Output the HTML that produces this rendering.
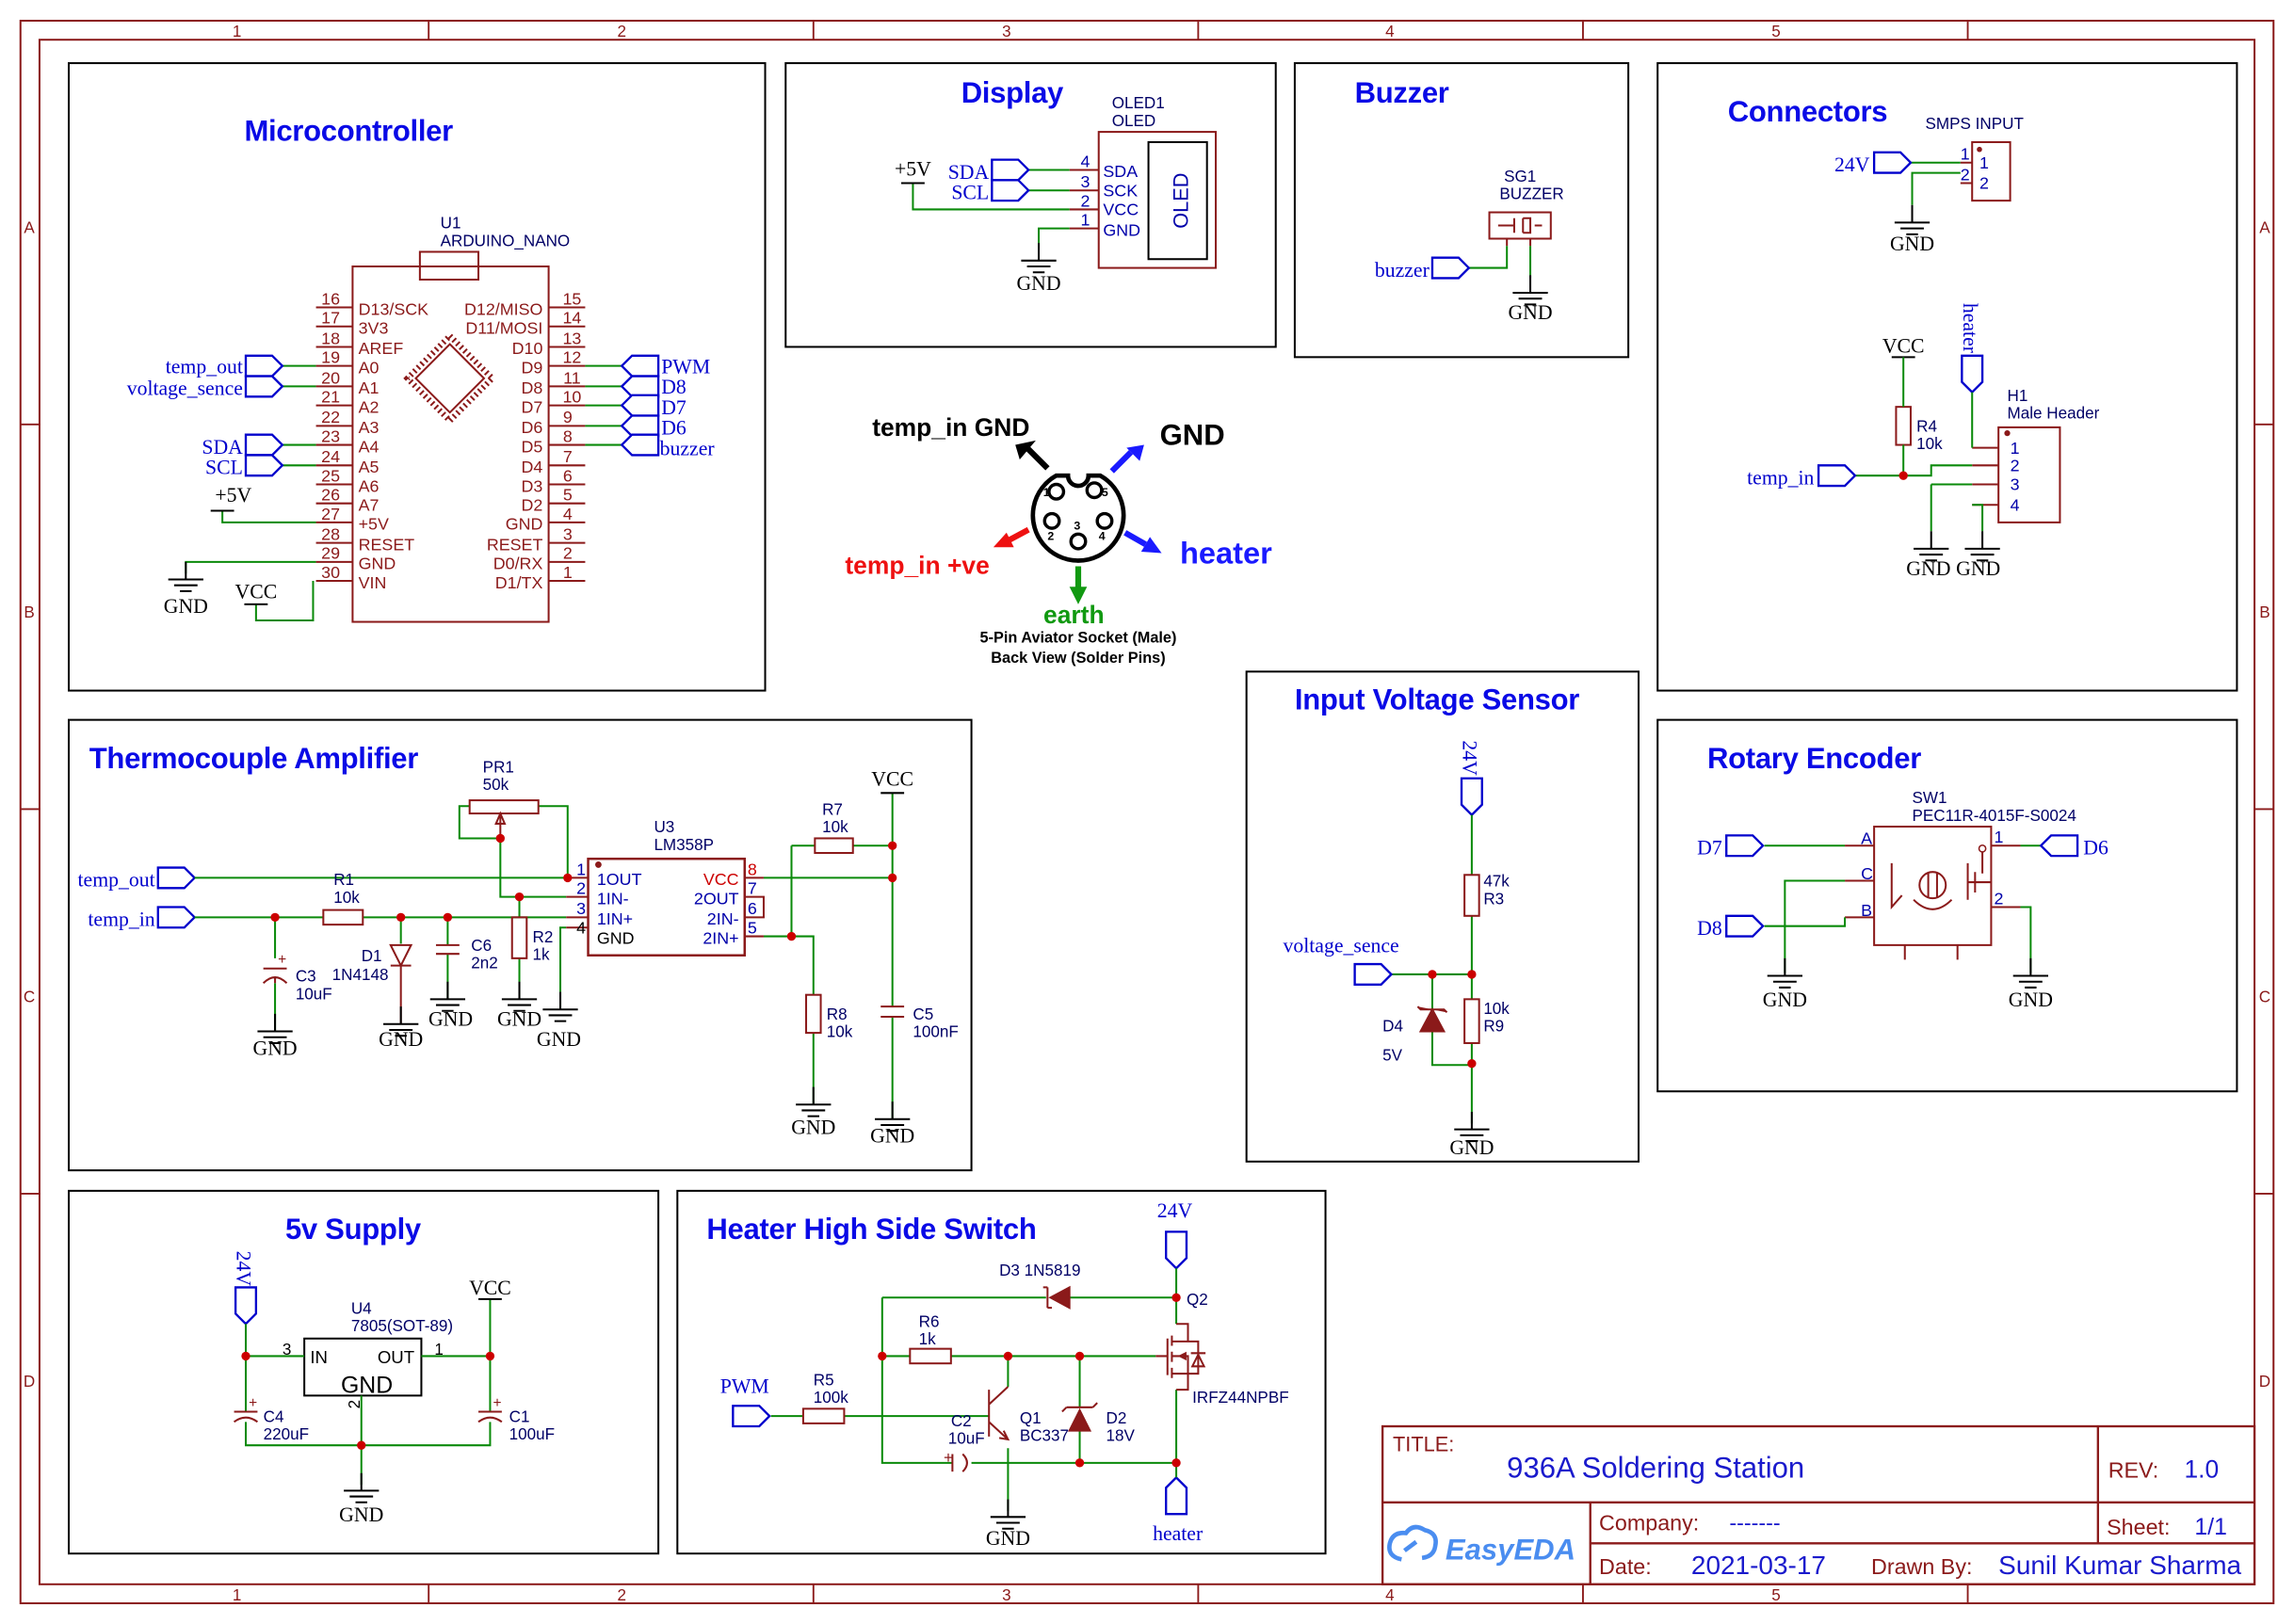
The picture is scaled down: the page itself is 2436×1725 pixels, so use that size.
<!DOCTYPE html>
<html><head><meta charset="utf-8"><style>
html,body{margin:0;padding:0;background:#fff;}
svg{display:block;}
.w{stroke:#0a8a0a;stroke-width:1.3;fill:none}
.c{stroke:#8b1a1a;stroke-width:1.3;fill:none}
.b{stroke:#000;stroke-width:1.3;fill:none}
.f{stroke:#0000cc;stroke-width:1.5;fill:#fff}
.nl{font-family:"Liberation Serif",serif;font-size:14px;fill:#0000cc}
.sl{font-family:"Liberation Serif",serif;font-size:14px;fill:#000}
.pl{font-family:"Liberation Sans",sans-serif;font-size:11.5px;fill:#8b1a1a}
.pn{font-family:"Liberation Sans",sans-serif;font-size:11.5px;fill:#8b1a1a}
.lb{font-family:"Liberation Sans",sans-serif;font-size:11px;fill:#000066}
.bp{font-family:"Liberation Sans",sans-serif;font-size:11.5px;fill:#0000aa}
.t{font-family:"Liberation Sans",sans-serif;font-size:20px;font-weight:bold;fill:#0a0ae6;letter-spacing:-0.2px}
.fr{font-family:"Liberation Sans",sans-serif;font-size:11px;fill:#8b1a1a}
.d{fill:#cc0000}
</style></head><body>
<svg width="2436" height="1725" viewBox="0 0 1568 1110" xmlns="http://www.w3.org/2000/svg">
<defs>
<g id="gnd"><path d="M0,-12V0M-12,0H12M-8,4H8M-4,8H4" stroke="#000" stroke-width="1.3" fill="none"/></g>
<path id="fr" d="M0,-7H18L25,0L18,7H0Z"/>
<path id="fl" d="M25,-7H7L0,0L7,7H25Z"/>
<path id="fd" d="M-7,0V18L0,25L7,18V0Z"/>
<path id="fu" d="M-7,25V7L0,0L7,7V25Z"/>
</defs>
<rect width="1568" height="1110" fill="#fff"/>
<rect x="14" y="14" width="1540" height="1082" fill="none" stroke="#8b1a1a" stroke-width="1.3"/>
<rect x="27" y="27" width="1514" height="1056" fill="none" stroke="#8b1a1a" stroke-width="1.3"/>
<g stroke="#8b1a1a" stroke-width="1.2">
<path d="M293,14V27M556,14V27M819,14V27M1082,14V27M1345,14V27M293,1083V1096M556,1083V1096M819,1083V1096M1082,1083V1096M1345,1083V1096"/>
<path d="M14,290H27M14,553H27M14,816H27M1541,290H1554M1541,553H1554M1541,816H1554"/>
</g>
<g class="fr" text-anchor="middle">
<text x="162" y="25">1</text><text x="425" y="25">2</text><text x="688" y="25">3</text><text x="950" y="25">4</text><text x="1214" y="25">5</text>
<text x="162" y="1094">1</text><text x="425" y="1094">2</text><text x="688" y="1094">3</text><text x="950" y="1094">4</text><text x="1214" y="1094">5</text>
<text x="20" y="159">A</text><text x="20" y="422">B</text><text x="20" y="685">C</text><text x="20" y="948">D</text>
<text x="1548" y="159">A</text><text x="1548" y="422">B</text><text x="1548" y="685">C</text><text x="1548" y="948">D</text>
</g>
<g class="b" stroke-width="1.5">
<rect x="47" y="43" width="476" height="429"/>
<rect x="537" y="43" width="335" height="194"/>
<rect x="885" y="43" width="228" height="201"/>
<rect x="1133" y="43" width="396" height="429"/>
<rect x="47" y="492" width="617" height="308"/>
<rect x="852" y="459" width="268" height="335"/>
<rect x="1133" y="492" width="396" height="254"/>
<rect x="47" y="814" width="403" height="248"/>
<rect x="463" y="814" width="443" height="248"/>
</g>
<g class="t">
<text x="167" y="96">Microcontroller</text>
<text x="657" y="70">Display</text>
<text x="926" y="70">Buzzer</text>
<text x="1181" y="83">Connectors</text>
<text x="61" y="525">Thermocouple Amplifier</text>
<text x="885" y="485">Input Voltage Sensor</text>
<text x="1167" y="525">Rotary Encoder</text>
<text x="195" y="847">5v Supply</text>
<text x="483" y="847">Heater High Side Switch</text>
</g>

<text class="lb" x="301" y="156">U1</text><text class="lb" x="301" y="168">ARDUINO_NANO</text>
<rect class="c" x="241" y="182" width="134" height="243"/>
<rect class="c" x="287" y="172" width="40" height="19"/>
<g class="c">
<path d="M216,210H241M216,223H241M216,237H241M216,250H241M216,264H241M216,277H241M216,291H241M216,304H241M216,318H241M216,331H241M216,344H241M216,357H241M216,371H241M216,384H241M216,397H241"/>
<path d="M375,210H400M375,223H400M375,237H400M375,250H400M375,264H400M375,277H400M375,291H400M375,304H400M375,318H400M375,331H400M375,344H400M375,357H400M375,371H400M375,384H400M375,397H400"/>
<rect x="291" y="242" width="33" height="33" transform="rotate(45 307.5 258.5)"/>
<rect x="287" y="238" width="41" height="41" transform="rotate(45 307.5 258.5)" stroke-dasharray="1.3 2.2" stroke-width="4"/>
</g>
<g class="pn" text-anchor="middle">
<text x="226" y="208">16</text><text x="226" y="221">17</text><text x="226" y="235">18</text><text x="226" y="248">19</text><text x="226" y="262">20</text><text x="226" y="275">21</text><text x="226" y="289">22</text><text x="226" y="302">23</text><text x="226" y="316">24</text><text x="226" y="329">25</text><text x="226" y="342">26</text><text x="226" y="355">27</text><text x="226" y="369">28</text><text x="226" y="382">29</text><text x="226" y="395">30</text>
<text x="391" y="208">15</text><text x="391" y="221">14</text><text x="391" y="235">13</text><text x="391" y="248">12</text><text x="391" y="262">11</text><text x="391" y="275">10</text><text x="388" y="289">9</text><text x="388" y="302">8</text><text x="388" y="316">7</text><text x="388" y="329">6</text><text x="388" y="342">5</text><text x="388" y="355">4</text><text x="388" y="369">3</text><text x="388" y="382">2</text><text x="388" y="395">1</text>
</g>
<g class="pl">
<text x="245" y="215">D13/SCK</text><text x="245" y="228">3V3</text><text x="245" y="242">AREF</text><text x="245" y="255">A0</text><text x="245" y="269">A1</text><text x="245" y="282">A2</text><text x="245" y="296">A3</text><text x="245" y="309">A4</text><text x="245" y="323">A5</text><text x="245" y="336">A6</text><text x="245" y="349">A7</text><text x="245" y="362">+5V</text><text x="245" y="376">RESET</text><text x="245" y="389">GND</text><text x="245" y="402">VIN</text>
</g>
<g class="pl" text-anchor="end">
<text x="371" y="215">D12/MISO</text><text x="371" y="228">D11/MOSI</text><text x="371" y="242">D10</text><text x="371" y="255">D9</text><text x="371" y="269">D8</text><text x="371" y="282">D7</text><text x="371" y="296">D6</text><text x="371" y="309">D5</text><text x="371" y="323">D4</text><text x="371" y="336">D3</text><text x="371" y="349">D2</text><text x="371" y="362">GND</text><text x="371" y="376">RESET</text><text x="371" y="389">D0/RX</text><text x="371" y="402">D1/TX</text>
</g>
<g class="w"><path d="M193,250H216M193,264H216M193,304H216M193,318H216M400,250H425M400,264H425M400,277H425M400,291H425M400,304H425"/>
<path d="M152,349V357H216M216,384H127V392M175,413V424H214V397"/></g>
<g class="f"><use href="#fr" x="168" y="250"/><use href="#fr" x="168" y="264"/><use href="#fr" x="168" y="304"/><use href="#fr" x="168" y="318"/>
<use href="#fl" x="425" y="250"/><use href="#fl" x="425" y="264"/><use href="#fl" x="425" y="277"/><use href="#fl" x="425" y="291"/><use href="#fl" x="425" y="304"/></g>
<g class="nl" text-anchor="end"><text x="166" y="255">temp_out</text><text x="166" y="270">voltage_sence</text><text x="166" y="310">SDA</text><text x="166" y="324">SCL</text></g>
<g class="nl"><text x="452" y="255">PWM</text><text x="452" y="269">D8</text><text x="452" y="283">D7</text><text x="452" y="297">D6</text><text x="451" y="311">buzzer</text></g>
<path class="b" d="M144,349H160"/><text class="sl" x="147" y="343">+5V</text>
<use href="#gnd" x="127" y="396"/><text class="sl" x="127" y="419" text-anchor="middle">GND</text>
<path class="b" d="M167,413H183"/><text class="sl" x="175" y="409" text-anchor="middle">VCC</text>

<text class="lb" x="760" y="74">OLED1</text><text class="lb" x="760" y="86">OLED</text>
<rect class="c" x="751" y="90" width="80" height="93"/>
<rect class="b" x="785" y="97" width="40" height="80"/>
<text x="812" y="137" font-family="Liberation Sans,sans-serif" font-size="14" fill="#0000aa" transform="rotate(-90 812 137)" text-anchor="middle">OLED</text>
<path class="c" d="M731,116H751M731,130H751M731,143H751M731,156H751"/>
<g class="bp" text-anchor="end"><text x="745" y="114">4</text><text x="745" y="128">3</text><text x="745" y="141">2</text><text x="745" y="154">1</text></g>
<g class="bp"><text x="754" y="121">SDA</text><text x="754" y="134">SCK</text><text x="754" y="147">VCC</text><text x="754" y="161">GND</text></g>
<g class="w"><path d="M703,116H731M703,130H731M624,125V143H731M731,156H710V170"/></g>
<g class="f"><use href="#fr" x="678" y="116"/><use href="#fr" x="678" y="130"/></g>
<g class="nl" text-anchor="end"><text x="676" y="122">SDA</text><text x="676" y="136">SCL</text></g>
<path class="b" d="M616,125H632"/><text class="sl" x="624" y="120" text-anchor="middle">+5V</text>
<use href="#gnd" x="710" y="178"/><text class="sl" x="710" y="198" text-anchor="middle">GND</text>

<text class="lb" x="1028" y="124">SG1</text><text class="lb" x="1025" y="136">BUZZER</text>
<rect class="c" x="1018" y="145" width="42" height="18"/>
<path class="c" d="M1030,163V168M1046,163V168M1024,154H1035M1035,149V159M1041,149V159M1041,149H1046V159H1041M1049,154H1054"/>
<g class="w"><path d="M1004,183H1030V168M1046,168V190"/></g>
<use href="#fr" x="979" y="183" class="f"/>
<text class="nl" x="977" y="189" text-anchor="end">buzzer</text>
<use href="#gnd" x="1046" y="200"/><text class="sl" x="1046" y="218" text-anchor="middle">GND</text>

<text class="lb" x="1316" y="88">SMPS INPUT</text>
<rect class="c" x="1348" y="97" width="26" height="40"/>
<circle cx="1353" cy="102" r="1.8" fill="#8b1a1a"/>
<path class="c" d="M1340,111H1348M1340,125H1348"/>
<g class="bp"><text x="1340" y="109">1</text><text x="1340" y="123">2</text><text x="1353" y="115">1</text><text x="1353" y="129">2</text></g>
<g class="w"><path d="M1306,111H1340M1340,118H1307V140"/></g>
<use href="#fr" x="1281" y="111" class="f"/><text class="nl" x="1278" y="117" text-anchor="end">24V</text>
<use href="#gnd" x="1307" y="152"/><text class="sl" x="1307" y="171" text-anchor="middle">GND</text>

<text class="lb" x="1372" y="274">H1</text><text class="lb" x="1372" y="286">Male Header</text>
<rect class="c" x="1366" y="292" width="42" height="65"/>
<circle cx="1372" cy="296" r="2" fill="#8b1a1a"/>
<path class="c" d="M1348,306H1366M1348,318H1366M1348,331H1366M1348,345H1366"/>
<g class="bp"><text x="1374" y="310">1</text><text x="1374" y="322">2</text><text x="1374" y="335">3</text><text x="1374" y="349">4</text></g>
<use href="#fd" x="1348" y="243" class="f"/>
<text class="nl" x="1342" y="207" transform="rotate(90 1342 207)">heater</text>
<path class="b" d="M1293,244H1309"/><text class="sl" x="1301" y="241" text-anchor="middle">VCC</text>
<rect class="c" x="1296" y="278" width="10" height="26"/>
<text class="lb" x="1310" y="295">R4</text><text class="lb" x="1310" y="307">10k</text>
<g class="w"><path d="M1348,268V306M1301,244V278M1301,304V325M1268,325H1320V318H1348M1320,331H1348M1320,331V363M1348,345H1355V363"/></g>
<circle class="d" cx="1301" cy="325" r="3"/>
<use href="#fr" x="1243" y="325" class="f"/><text class="nl" x="1240" y="331" text-anchor="end">temp_in</text>
<use href="#gnd" x="1320" y="375"/><use href="#gnd" x="1355" y="375"/>
<text class="sl" x="1303" y="393">GND</text><text class="sl" x="1337" y="393">GND</text>

<g>
<path d="M722,325 A31,31 0 1 0 752,325 L744,325 A7,7 0 0 1 730,325 Z" fill="none" stroke="#000" stroke-width="3"/>
<g fill="none" stroke="#000" stroke-width="2.2"><circle cx="722" cy="336" r="5"/><circle cx="748" cy="335" r="5"/><circle cx="719" cy="356" r="5"/><circle cx="755" cy="356" r="5"/><circle cx="737" cy="370" r="5"/></g>
<g font-family="Liberation Sans,sans-serif" font-size="8" font-weight="bold"><text x="713" y="339">1</text><text x="753" y="339">5</text><text x="716" y="369">2</text><text x="734" y="362">3</text><text x="751" y="369">4</text></g>
<path d="M716,320L702,306" stroke="#000" stroke-width="4"/><path d="M694,304L708,301L697,314Z" fill="#000"/>
<path d="M760,322L773,309" stroke="#1a1aff" stroke-width="4"/><path d="M782,304L770,306L779,315Z" fill="#1a1aff"/>
<path d="M703,362L688,370" stroke="#ee1111" stroke-width="4"/><path d="M679,374L688,364L693,374Z" fill="#ee1111"/>
<path d="M769,364L783,372" stroke="#1a1aff" stroke-width="4"/><path d="M794,378L780,377L786,367Z" fill="#1a1aff"/>
<path d="M737,387V402" stroke="#119911" stroke-width="4"/><path d="M731,401H743L737,413Z" fill="#119911"/>
<g font-family="Liberation Sans,sans-serif" font-weight="bold" text-anchor="middle">
<text x="650" y="298" font-size="17" fill="#000">temp_in GND</text>
<text x="815" y="304" font-size="20" fill="#000">GND</text>
<text x="627" y="392" font-size="17" fill="#ee1111">temp_in +ve</text>
<text x="838" y="385" font-size="21" fill="#1a1aff">heater</text>
<text x="734" y="426" font-size="17" fill="#119911">earth</text>
<text x="737" y="439" font-size="10.5" fill="#000">5-Pin Aviator Socket (Male)</text>
<text x="737" y="453" font-size="10.5" fill="#000">Back View (Solder Pins)</text>
</g>
</g>

<g class="f"><use href="#fr" x="108" y="600"/><use href="#fr" x="108" y="627"/></g>
<g class="nl" text-anchor="end"><text x="106" y="606">temp_out</text><text x="106" y="633">temp_in</text></g>
<g class="w">
<path d="M133,600H387M133,627H221M248,627H387M188,627V655M188,672V705M274,627V645M306,627V646M306,652V683M355,613V627M355,655V683M387,634H383V690"/>
<path d="M321,551H314V573H342M342,573V613H387M368,551H388V600"/>
<path d="M522,600H610M541,578H557M583,578H610M541,578V640M522,640H556V680M556,706V755M610,542V688M610,695V765"/>
</g>
<g class="c">
<rect x="221" y="622" width="27" height="10"/>
<path d="M180,662H196M180,672Q188,664 196,672M188,668V672"/>
<path d="M267,646H281L274,660ZM267,660H281M274,660V700"/>
<path d="M298,646H314M298,652H314"/>
<rect x="350" y="627" width="10" height="28"/>
<rect x="321" y="547" width="47" height="9"/>
<path d="M342,573V558M339,563L342,556L345,563Z"/>
<path d="M387,600H402M387,613H402M387,627H402M387,634H402M509,600H522M509,613H522V627H509M509,640H522"/>
<rect x="402" y="587" width="107" height="66" stroke-width="1.6"/>
<rect x="557" y="573" width="26" height="10"/>
<rect x="551" y="680" width="10" height="26"/>
<path d="M602,688H618M602,695H618"/>
</g>
<circle cx="409" cy="591" r="2.2" fill="#8b1a1a"/>
<text x="190" y="659" font-family="Liberation Sans" font-size="10" fill="#8b1a1a">+</text>
<g class="bp"><text x="394" y="598">1</text><text x="394" y="611">2</text><text x="394" y="625">3</text><text x="394" y="638" fill="#000">4</text>
<text x="511" y="598" fill="#cc0000">8</text><text x="511" y="611">7</text><text x="511" y="625">6</text><text x="511" y="638">5</text>
<text x="408" y="605">1OUT</text><text x="408" y="618">1IN-</text><text x="408" y="632">1IN+</text><text x="408" y="645" fill="#000">GND</text></g>
<g class="bp" text-anchor="end"><text x="505" y="605" fill="#cc0000">VCC</text><text x="505" y="618">2OUT</text><text x="505" y="632">2IN-</text><text x="505" y="645">2IN+</text></g>
<g class="lb">
<text x="330" y="528">PR1</text><text x="330" y="540">50k</text>
<text x="228" y="605">R1</text><text x="228" y="617">10k</text>
<text x="202" y="671">C3</text><text x="202" y="683">10uF</text>
<text x="247" y="657">D1</text><text x="227" y="670">1N4148</text>
<text x="322" y="650">C6</text><text x="322" y="662">2n2</text>
<text x="364" y="644">R2</text><text x="364" y="656">1k</text>
<text x="447" y="569">U3</text><text x="447" y="581">LM358P</text>
<text x="562" y="557">R7</text><text x="562" y="569">10k</text>
<text x="565" y="697">R8</text><text x="565" y="709">10k</text>
<text x="624" y="697">C5</text><text x="624" y="709">100nF</text>
</g>
<g class="d"><circle cx="388" cy="600" r="3"/><circle cx="342" cy="573" r="3"/><circle cx="355" cy="613" r="3"/><circle cx="188" cy="627" r="3"/><circle cx="274" cy="627" r="3"/><circle cx="306" cy="627" r="3"/><circle cx="610" cy="578" r="3"/><circle cx="610" cy="600" r="3"/><circle cx="541" cy="640" r="3"/></g>
<use href="#gnd" x="188" y="705"/><use href="#gnd" x="274" y="700"/><use href="#gnd" x="306" y="683"/><use href="#gnd" x="355" y="683"/><use href="#gnd" x="383" y="690"/><use href="#gnd" x="556" y="755"/><use href="#gnd" x="610" y="765"/>
<path class="b" d="M602,542H618"/><text class="sl" x="610" y="537" text-anchor="middle">VCC</text>
<g class="sl" text-anchor="middle"><text x="188" y="721">GND</text><text x="274" y="715">GND</text><text x="308" y="701">GND</text><text x="355" y="701">GND</text><text x="382" y="715">GND</text><text x="556" y="775">GND</text><text x="610" y="781">GND</text></g>

<use href="#fd" x="1006" y="532" class="f"/>
<text class="nl" x="1000" y="506" transform="rotate(90 1000 506)">24V</text>
<g class="w"><path d="M1006,557V598M1006,626V683M951,666H1006M979,666V690M979,705V728H1006M1006,713V768"/></g>
<g class="c"><rect x="1001" y="598" width="10" height="28"/><rect x="1001" y="683" width="10" height="30"/>
<path d="M979,690V705M971,705H987L979,690ZM969,688L971,690H987L989,692" fill="#8b1a1a"/></g>
<g class="d"><circle cx="1006" cy="666" r="3"/><circle cx="979" cy="666" r="3"/><circle cx="1006" cy="727" r="3"/></g>
<use href="#fr" x="926" y="666" class="f"/>
<text class="nl" x="877" y="651">voltage_sence</text>
<g class="lb"><text x="1014" y="606">47k</text><text x="1014" y="618">R3</text><text x="1014" y="693">10k</text><text x="1014" y="705">R9</text><text x="945" y="705">D4</text><text x="945" y="725">5V</text></g>
<use href="#gnd" x="1006" y="772"/><text class="sl" x="1006" y="789" text-anchor="middle">GND</text>

<text class="lb" x="1307" y="549">SW1</text><text class="lb" x="1307" y="561">PEC11R-4015F-S0024</text>
<rect class="c" x="1281" y="565" width="80" height="81"/>
<g class="c"><path d="M1302,646V656M1338,646V656M1261,578H1281M1261,602H1281M1261,627H1281M1361,578H1381M1361,620H1381"/>
<circle cx="1321" cy="605" r="9"/><path d="M1318,597V613M1324,597V613M1293,590V620L1300,612M1345,590V615M1350,596V610M1352,603H1361M1345,603H1352M1355,582V597"/>
<path d="M1308,615Q1321,628 1334,615"/></g>
<circle cx="1355" cy="580" r="2.3" fill="none" stroke="#8b1a1a"/>
<g class="bp"><text x="1272" y="577">A</text><text x="1272" y="601">C</text><text x="1272" y="626">B</text><text x="1363" y="576">1</text><text x="1363" y="618">2</text></g>
<g class="w"><path d="M1206,578H1261M1220,665V602H1261M1206,633H1261V627M1381,578H1395M1381,620H1388V665"/></g>
<g class="f"><use href="#fr" x="1180" y="578"/><use href="#fr" x="1180" y="633"/><use href="#fl" x="1395" y="578"/></g>
<g class="nl"><text x="1160" y="584">D7</text><text x="1160" y="639">D8</text><text x="1424" y="584">D6</text></g>
<use href="#gnd" x="1220" y="667"/><use href="#gnd" x="1388" y="667"/>
<g class="sl" text-anchor="middle"><text x="1220" y="688">GND</text><text x="1388" y="688">GND</text></g>

<use href="#fd" x="168" y="880" class="f"/>
<text class="nl" x="162" y="855" transform="rotate(90 162 855)">24V</text>
<rect class="b" x="208" y="915" width="80" height="39" stroke-width="1.6"/>
<g font-family="Liberation Sans,sans-serif" fill="#000"><text x="212" y="932" font-size="12">IN</text><text x="258" y="932" font-size="12">OUT</text><text x="233" y="952" font-size="16">GND</text>
<text x="193" y="926" font-size="11">3</text><text x="297" y="926" font-size="11">1</text><text x="246" y="963" font-size="11" transform="rotate(-90 246 963)">2</text></g>
<text class="lb" x="240" y="898">U4</text><text class="lb" x="240" y="910">7805(SOT-89)</text>
<g class="w"><path d="M168,905V965M168,972V988H335V972M335,888V965M168,927H208M288,927H335M247,954V1015"/></g>
<g class="c"><path d="M160,965H176M160,972Q168,966 176,972M327,965H343M327,972Q335,966 343,972"/></g>
<g fill="#8b1a1a" font-family="Liberation Sans" font-size="10"><text x="170" y="962">+</text><text x="337" y="962">+</text></g>
<g class="d"><circle cx="168" cy="927" r="3"/><circle cx="335" cy="927" r="3"/><circle cx="247" cy="988" r="3"/></g>
<g class="lb"><text x="180" y="972">C4</text><text x="180" y="984">220uF</text><text x="348" y="972">C1</text><text x="348" y="984">100uF</text></g>
<path class="b" d="M327,888H343"/><text class="sl" x="335" y="885" text-anchor="middle">VCC</text>
<use href="#gnd" x="247" y="1019"/><text class="sl" x="247" y="1040" text-anchor="middle">GND</text>

<use href="#fd" x="804" y="842" class="f"/><text class="nl" x="803" y="832" text-anchor="middle">24V</text>
<use href="#fu" x="804" y="1010" class="f"/><text class="nl" x="805" y="1053" text-anchor="middle">heater</text>
<use href="#fr" x="501" y="968" class="f"/><text class="nl" x="509" y="952" text-anchor="middle">PWM</text>
<g class="w"><path d="M804,867V905M804,950V1010M603,887H715M731,887H804M603,887V1000H651M664,1000H804M603,927H622M650,927H790M527,968H549M577,968H676M689,927V948M689,990V1033M738,927V962M738,978V1000"/></g>
<g class="c">
<path d="M731,880V894L718,887Z" fill="#8b1a1a"/><path d="M716,880V894M716,880H713M716,894H719"/>
<rect x="622" y="922" width="28" height="10"/><rect x="549" y="963" width="28" height="10"/>
<path d="M651,994V1006M658,994Q664,1000 658,1006" />
<path d="M676,950V982M676,960L689,948M676,972L689,984M683,983L689,984L686,978"/>
<path d="M731,978H745L738,964Z" fill="#8b1a1a"/><path d="M729,962H747M729,962L726,965M747,962L750,959"/>
<path d="M790,927H798M798,915V940M801,913V920M801,924V931M801,935V942M801,917H812V905H804M801,939H812V950H804M801,927H812V939M812,917H819V939H812M814,925H824M815,934H823L819,926Z"/>
</g>
<path d="M805,927L811,924V930Z" fill="#8b1a1a"/>
<text x="645" y="1000" font-family="Liberation Sans" font-size="11" fill="#8b1a1a">+</text>
<g class="d"><circle cx="804" cy="887" r="3"/><circle cx="603" cy="927" r="3"/><circle cx="689" cy="927" r="3"/><circle cx="738" cy="927" r="3"/><circle cx="738" cy="1000" r="3"/><circle cx="804" cy="1000" r="3"/></g>
<g class="lb"><text x="683" y="872">D3 1N5819</text><text x="811" y="892">Q2</text><text x="628" y="907">R6</text><text x="628" y="919">1k</text><text x="556" y="947">R5</text><text x="556" y="959">100k</text><text x="650" y="975">C2</text><text x="648" y="987">10uF</text><text x="697" y="973">Q1</text><text x="697" y="985">BC337</text><text x="756" y="973">D2</text><text x="756" y="985">18V</text><text x="815" y="959">IRFZ44NPBF</text></g>
<use href="#gnd" x="689" y="1037"/><text class="sl" x="689" y="1056" text-anchor="middle">GND</text>

<g stroke="#8b1a1a" stroke-width="1.5" fill="none">
<rect x="945" y="975" width="596" height="108"/>
<path d="M945,1027H1541M1087,1055H1541M1087,1027V1083M1434,975V1055"/>
</g>
<g font-family="Liberation Sans,sans-serif">
<text x="952" y="992" font-size="14" fill="#8b1a1a">TITLE:</text>
<text x="1030" y="1010" font-size="20" fill="#1a1acc">936A Soldering Station</text>
<text x="1441" y="1010" font-size="15" fill="#8b1a1a">REV:</text><text x="1493" y="1010" font-size="17" fill="#1a1acc">1.0</text>
<text x="1093" y="1046" font-size="15" fill="#8b1a1a">Company:</text><text x="1182" y="1046" font-size="15" fill="#1a1acc">-------</text>
<text x="1440" y="1049" font-size="15" fill="#8b1a1a">Sheet:</text><text x="1500" y="1049" font-size="16" fill="#1a1acc">1/1</text>
<text x="1093" y="1076" font-size="15" fill="#8b1a1a">Date:</text><text x="1156" y="1076" font-size="18" fill="#1a1acc">2021-03-17</text>
<text x="1279" y="1076" font-size="15" fill="#8b1a1a">Drawn By:</text><text x="1366" y="1076" font-size="18" fill="#1a1acc">Sunil Kumar Sharma</text>
<text x="988" y="1066" font-size="20" font-weight="bold" font-style="italic" fill="#4a8df0">EasyEDA</text>
</g>
<path d="M958,1066Q948,1064 950,1055Q952,1047 961,1048Q966,1041 974,1046Q983,1048 981,1057Q980,1064 972,1065" fill="none" stroke="#4a8df0" stroke-width="3"/>
<path d="M960,1060L968,1054" stroke="#4a8df0" stroke-width="3"/>
</svg>
</body></html>
